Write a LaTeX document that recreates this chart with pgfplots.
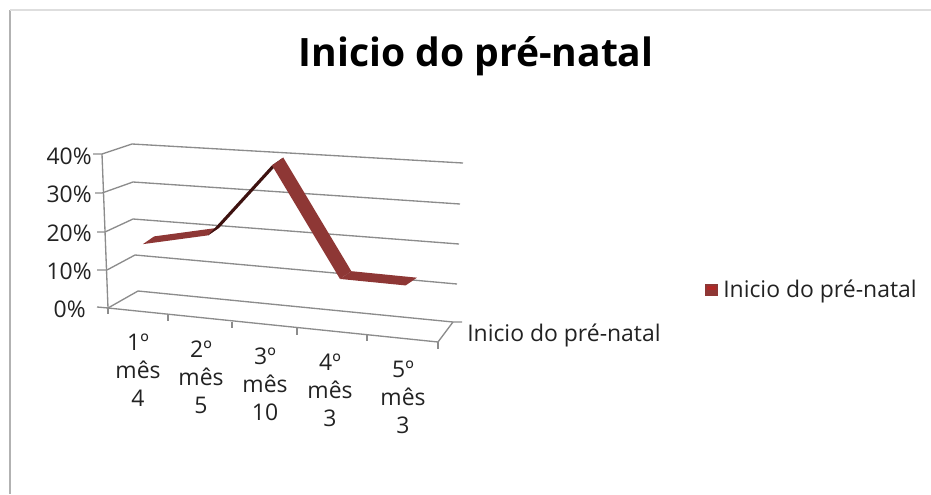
\documentclass[border=0pt]{standalone}
\usepackage{fontspec}
\setmainfont{Open Sans}
\usepackage{pgfplots}
\pgfplotsset{compat=1.18}
\definecolor{gridgray}{HTML}{8C8C8C}
\definecolor{ribbon}{HTML}{8E3735}
\definecolor{ribbondark}{HTML}{3E1210}
\definecolor{labeltext}{HTML}{222222}
\newcommand{\lab}{\fontsize{17.2}{21}\selectfont}

\begin{document}
\begin{tikzpicture}[x=0.75pt,y=-0.75pt]
\path[use as bounding box] (0,0) rectangle (931,494);

% frame of the screenshot
\draw[line width=2pt,color=black!30] (10,10) -- (10,494);
\draw[line width=1pt,color=black!13] (10,10) -- (931,10);

% walls and floor
\begin{scope}[line width=1pt]
\draw[gridgray] (93,154) -- (102,154) -- (132,144) -- (463,163);
\draw[gridgray] (95,193) -- (102,193) -- (133,182) -- (460,204);
\draw[gridgray] (97,232) -- (105,232) -- (133,219) -- (459,244);
\draw[gridgray] (97,270) -- (107,270) -- (135,255) -- (457,284);
\draw[gridgray] (97,307) -- (108,308) -- (138,291) -- (453,322) -- (462,322);
\draw[gridgray] (102,154) -- (108,308) -- (438,342) -- (453,322);
\draw[gridgray] (108,308) -- (108,314);
\draw[gridgray] (168,314) -- (168,321);
\draw[gridgray] (232,322) -- (232,328);
\draw[gridgray] (297,328) -- (297,335);
\draw[gridgray] (367,335) -- (367,341);
\draw[gridgray] (438,342) -- (438,349);
\end{scope}

\begin{axis}[
    at={(76.5pt,-254pt)},
    anchor=south west,
    hide axis,
    clip=false,
    x={(49.2pt,-4.875pt)},
    y={(20.25pt,13.875pt)},
    z={(-0.066pt,2.869pt)},
    xmin=0, xmax=5,
    ymin=0, ymax=1,
    zmin=0, zmax=40,
]
% ribbon: one face per segment, values in percent
\addplot3[fill=ribbon,draw=none] coordinates {(0.5,0.22,16) (1.5,0.22,20) (1.5,0.64,20) (0.5,0.64,16)} -- cycle;
\addplot3[fill=ribbondark,draw=none] coordinates {(1.5,0.22,20) (2.5,0.22,40) (2.5,0.64,40) (1.5,0.64,20)} -- cycle;
\addplot3[fill=ribbon,draw=none] coordinates {(2.5,0.22,40) (3.5,0.22,12) (3.5,0.64,12) (2.5,0.64,40)} -- cycle;
\addplot3[fill=ribbon,draw=none] coordinates {(3.5,0.22,12) (4.5,0.22,12) (4.5,0.64,12) (3.5,0.64,12)} -- cycle;
\end{axis}

% title
\node[font=\fontsize{29.3}{34}\selectfont\bfseries,text=black] at (476,56) {Inicio do pré-natal};

% percent labels
\begin{scope}[every node/.style={font=\lab,text=labeltext,anchor=east,inner sep=0pt}]
\node at (92,156) {40\%};
\node at (92,194) {30\%};
\node at (92,233) {20\%};
\node at (92,271) {10\%};
\node at (86,309) {0\%};
\end{scope}

% category labels
\begin{scope}[every node/.style={font=\lab,text=labeltext,align=center,inner sep=0pt}]
\node at (138,370) {1º\\mês\\4};
\node at (201,377) {2º\\mês\\5};
\node at (265,384) {3º\\mês\\10};
\node at (330,390) {4º\\mês\\3};
\node at (403,397) {5º\\mês\\3};
\node[anchor=west] at (467,335) {Inicio do pré-natal};
\end{scope}

% legend
\fill[ribbon] (705,284) rectangle (718,296);
\fill[ribbon!70!red] (707,286) rectangle (716,290);
\node[font=\lab,text=labeltext,anchor=west,inner sep=0pt] at (723,291) {Inicio do pré-natal};
\end{tikzpicture}
\end{document}
